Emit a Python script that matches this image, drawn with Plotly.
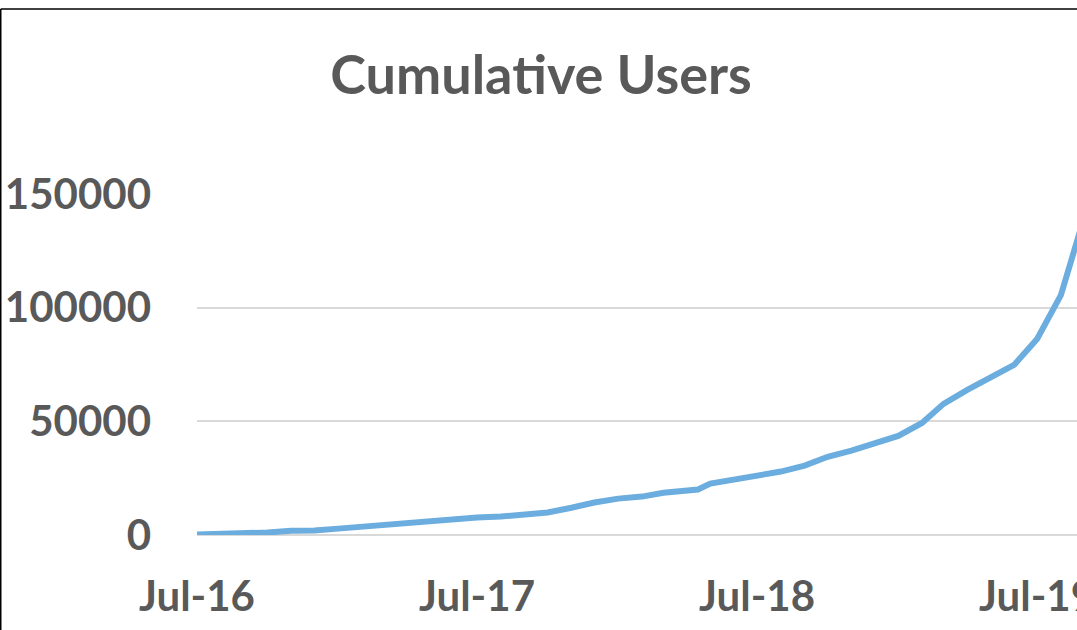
import plotly.graph_objects as go

dates = [
    "2016-07-01", "2016-08-01", "2016-09-01", "2016-10-01", "2016-11-01", "2016-12-01",
    "2017-01-01", "2017-02-01", "2017-03-01", "2017-04-01", "2017-05-01", "2017-06-01",
    "2017-07-01", "2017-08-01", "2017-09-01", "2017-10-01", "2017-11-01", "2017-12-01",
    "2018-01-01", "2018-02-01", "2018-03-01", "2018-04-15", "2018-05-01", "2018-06-01",
    "2018-07-01", "2018-08-01", "2018-09-01", "2018-10-01", "2018-11-01", "2018-12-01",
    "2019-01-01", "2019-02-01", "2019-03-01", "2019-04-01", "2019-05-01", "2019-06-01",
    "2019-07-01", "2019-08-01", "2019-09-01",
]
users = [
    200, 400, 1000, 1100, 1900, 2000,
    2800, 3700, 4600, 5500, 6400, 7200,
    7700, 8100, 9000, 9900, 12000, 14300,
    16000, 16900, 18600, 20000, 22600, 24300,
    25700, 27900, 30500, 34400, 37100, 40600,
    43600, 49300, 57700, 63800, 69500, 74800,
    86200, 105500, 140500,
]
x_tick_vals = ["2016-07-01", "2017-07-01", "2018-07-01", "2019-07-01"]
x_tick_text = ["Jul-16", "Jul-17", "Jul-18", "Jul-19"]
y_tick_vals = [0, 50000, 100000, 150000]
title_text = "Cumulative Users"

W, H = 1077, 630
L, R = 197, 0
T, B = 193.5, 94.5
pw = W - L - R
ph = H - T - B

FONT = "Lato"
GRAY = "#595959"

fig = go.Figure()
fig.add_trace(go.Scatter(
    x=dates, y=users, mode="lines",
    line=dict(color="#6BADDE", width=6),
    hoverinfo="skip", showlegend=False,
))

fig.update_layout(
    width=W, height=H,
    margin=dict(l=L, r=R, t=T, b=B, pad=0),
    paper_bgcolor="white", plot_bgcolor="white",
    title=dict(
        text="<b>" + title_text + "</b>",
        font=dict(family=FONT, size=54, color=GRAY),
        x=541 / W, xref="container", xanchor="center",
        y=1 - 75 / H, yref="container", yanchor="middle",
    ),
    xaxis=dict(
        type="date",
        range=["2016-07-01", "2019-08-22"],
        tickmode="array", tickvals=x_tick_vals, ticktext=x_tick_text,
        showgrid=False, showline=False, zeroline=False, ticks="",
        tickfont=dict(family=FONT, size=42, color=GRAY, weight="bold"),
        ticklabelstandoff=33,
        ticklabeloverflow="allow",
        automargin=False,
    ),
    yaxis=dict(
        range=[0, 150000],
        tickmode="array", tickvals=y_tick_vals, tickformat="d",
        showgrid=True, gridcolor="#D9D9D9", gridwidth=2,
        zeroline=True, zerolinecolor="#D9D9D9", zerolinewidth=2,
        showline=False, ticks="",
        tickfont=dict(family=FONT, size=42, color=GRAY, weight="bold"),
        ticklabelstandoff=45,
        ticklabeloverflow="allow",
        automargin=False,
    ),
)

# chart frame (top and left edges visible)
fx0 = (0.75 - L) / pw
fy0 = (H - B - 8) / ph
fig.add_shape(type="line", xref="paper", yref="paper",
              x0=fx0, x1=(W + 10 - L) / pw, y0=fy0, y1=fy0,
              line=dict(color="black", width=1.5))
fig.add_shape(type="line", xref="paper", yref="paper",
              x0=fx0, x1=fx0, y0=fy0, y1=(-B - 10) / ph,
              line=dict(color="black", width=1.5))

fig.write_html(
    "out.html",
    config={"displayModeBar": False},
    post_script="document.body.style.margin='0';document.body.style.overflow='hidden';",
)
